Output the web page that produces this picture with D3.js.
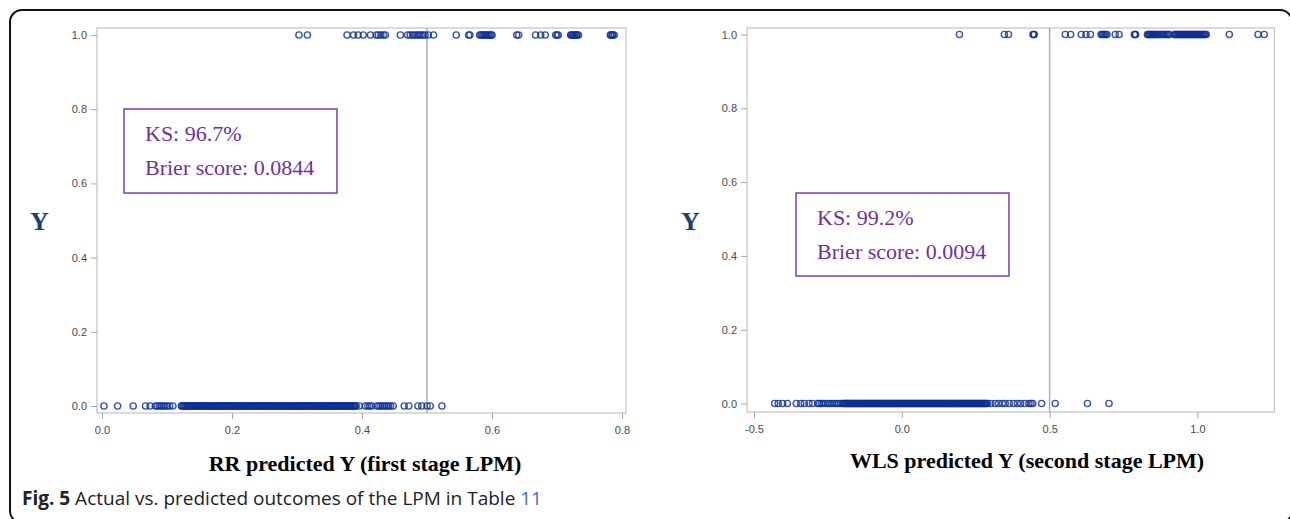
<!DOCTYPE html>
<html><head><meta charset="utf-8">
<script src="https://cdn.jsdelivr.net/npm/d3@7"></script>
<style>body{margin:0;background:#fff;}svg{display:block;}</style>
</head><body>
<svg id="c" width="1290" height="519"></svg>
<script>
// ---- data ----
const yTicks = [0, 0.2, 0.4, 0.6, 0.8, 1.0];
const leftXTicks = [0, 0.2, 0.4, 0.6, 0.8];
const rightXTicks = [-0.5, 0, 0.5, 1.0];
const cutoff = 0.5;
const leftTitle = "RR predicted Y (first stage LPM)";
const rightTitle = "WLS predicted Y (second stage LPM)";
const leftStats = ["KS: 96.7%", "Brier score: 0.0844"];
const rightStats = ["KS: 99.2%", "Brier score: 0.0094"];

// RR predicted values, actual Y = 1
const leftY1 = [.303,.316,
 .377,.387,.394,.402,.413,.422,.425,.429,.433,.436,
 .459,.470,.474,.478,.481,.485,.488,.491,.494,.497,.502,.510,
 .545,.564,.566,
 .581,.583,.585,.587,.589,.591,.593,.595,.597,.599,.600,
 .638,.641,.667,.675,.682,.698,.700,.702,
 .721,.722,.724,.725,.727,.728,.730,.731,.733,
 .782,.783,.785,.786,.788];
// RR predicted values, actual Y = 0
const leftY0 = [.003,.024,.048,.067,.074,.082,.085,.088,.091,.094,.097,.100,.104,.109,
 .122,.123,.125,.126,.128,.129,.131,.132,.134,.135,.137,.138,.140,.141,.143,.144,.146,.147,.149,.150,
 .152,.153,.155,.156,.158,.159,.161,.162,.164,.165,.167,.168,.170,.171,.173,.174,.176,.177,.179,.180,
 .182,.183,.185,.186,.188,.189,.191,.192,.194,.195,.197,.198,.200,.201,.203,.204,.206,.207,.209,.210,
 .212,.213,.215,.216,.218,.219,.221,.222,.224,.225,.227,.228,.230,.231,.233,.234,.236,.237,.239,.240,
 .242,.243,.245,.246,.248,.249,.251,.252,.254,.255,.257,.258,.260,.261,.263,.264,.266,.267,.269,.270,
 .272,.273,.275,.276,.278,.279,.281,.282,.284,.285,.287,.288,.290,.291,.293,.294,.296,.297,.299,.300,
 .302,.303,.305,.306,.308,.309,.311,.312,.314,.315,.317,.318,.320,.321,.323,.324,.326,.327,.329,.330,
 .332,.333,.335,.336,.338,.339,.341,.342,.344,.345,.347,.348,.350,.351,
 .353,.354,.356,.357,.359,.360,.362,.363,.365,.366,.368,.369,.371,.372,.374,.375,.377,.378,.380,.381,
 .383,.384,.386,.387,.389,.390,.391,
 .396,.405,.409,.412,.415,.423,.426,.429,.432,.435,.438,.441,.444,.448,
 .465,.472,.486,.492,.500,.505,.523];
// WLS predicted values, actual Y = 1
const rightY1 = [.195,.347,.361,.444,.446,.448,
 .553,.571,.607,.623,.638,.674,.678,.682,.686,.690,.694,.722,.735,.787,.789,.791,
 .831,.834,.837,.840,.843,.846,.849,.852,.855,.858,.862,.866,.870,.874,.878,.882,.886,.890,.894,.898,.902,.904,
 .922,.925,.928,.931,.934,.937,.940,.943,.946,.949,.952,.955,.958,.961,.964,.967,.970,.973,.976,.979,
 .982,.985,.988,.991,.994,.997,1.000,1.003,1.006,1.009,1.012,1.015,1.018,1.021,1.024,1.027,1.030,
 1.108,1.205,1.226];
// WLS predicted values, actual Y = 0
const rightY0 = [-.430,-.418,-.403,-.387,-.357,-.342,-.330,-.314,-.302,
 -.284,-.279,-.272,-.266,-.258,-.250,-.243,-.236,-.228,-.221,-.214,-.207,
 -.199,-.196,-.193,-.190,-.187,-.184,-.181,-.178,-.175,-.172,-.169,-.166,-.163,-.160,-.157,-.154,
 -.151,-.148,-.145,-.142,-.139,-.136,-.133,-.130,-.127,-.124,-.121,-.118,-.115,-.112,-.109,-.106,
 -.103,-.100,-.097,-.094,-.091,-.088,-.085,-.082,-.079,-.076,-.073,-.070,-.067,-.064,-.061,-.058,
 -.055,-.052,-.049,-.046,-.043,-.040,-.037,-.034,-.031,-.028,-.025,-.022,-.019,-.016,-.013,-.010,
 -.007,-.004,-.001,.002,.005,.008,.011,.014,.017,.020,.023,.026,.029,.032,.035,.038,.041,.044,.047,
 .050,.053,.056,.059,.062,.065,.068,.071,.074,.077,.080,.083,.086,.089,.092,.095,.098,.101,.104,.107,
 .110,.113,.116,.119,.122,.125,.128,.131,.134,.137,.140,.143,.146,.149,.152,.155,.158,.161,.164,.167,
 .170,.173,.176,.179,.182,.185,.188,.191,.194,.197,.200,.203,.206,.209,.212,.215,.218,.221,.224,.227,
 .230,.233,.236,.239,.242,.245,.248,.251,.254,.257,.260,.263,.266,.269,.272,.275,.278,.281,.284,.286,
 .290,.301,.316,.327,.340,.350,.364,.378,.391,.402,.416,.430,.437,.443,
 .473,.519,.628,.701];

// ---- drawing ----
const svg = d3.select("#c");

// outer frame
svg.append("rect").attr("x", 10).attr("y", 10).attr("width", 1282).attr("height", 513)
  .attr("rx", 12).attr("fill", "none").attr("stroke", "#111").attr("stroke-width", 2);

const fmt = d => d.toFixed(1);

function panel(cfg) {
  const x = d3.scaleLinear().domain(cfg.xDomain).range(cfg.xRange);
  const y = d3.scaleLinear().domain([0, 1]).range(cfg.yRange);
  const g = svg.append("g");
  const p = cfg.plot;
  g.append("rect").attr("x", p.x0).attr("y", p.y0).attr("width", p.x1 - p.x0).attr("height", p.y1 - p.y0)
    .attr("fill", "none").attr("stroke", "#c2c2c2").attr("stroke-width", 1.2);
  const ya = g.append("g").attr("transform", `translate(${p.x0},0)`)
    .call(d3.axisLeft(y).tickValues(yTicks).tickSize(6).tickPadding(4).tickFormat(fmt));
  const xa = g.append("g").attr("transform", `translate(0,${p.y1})`)
    .call(d3.axisBottom(x).tickValues(cfg.xTicks).tickSize(6).tickPadding(7).tickFormat(fmt));
  [ya, xa].forEach(a => {
    a.select(".domain").remove();
    a.selectAll("line").attr("stroke", "#a8a8a8");
    a.selectAll("text").attr("fill", "#4a4a4a").style("font-family", "Liberation Sans, Arial, sans-serif").style("font-size", "11px");
  });
  g.append("line").attr("x1", x(cutoff)).attr("x2", x(cutoff)).attr("y1", p.y0).attr("y2", p.y1)
    .attr("stroke", "#a9a9a9").attr("stroke-width", 1.4);
  const pts = cfg.y0.map(v => ({v, y: 0})).concat(cfg.y1.map(v => ({v, y: 1})));
  g.append("g").selectAll("circle").data(pts).join("circle")
    .attr("cx", d => x(d.v)).attr("cy", d => y(d.y)).attr("r", 3.1)
    .attr("fill", "none").attr("stroke", "#0c2f9a").attr("stroke-opacity", 0.82).attr("stroke-width", 1.4);
  const b = cfg.box;
  g.append("rect").attr("x", b.x).attr("y", b.y).attr("width", b.w).attr("height", b.h)
    .attr("fill", "#fff").attr("stroke", "#7a3db0").attr("stroke-width", 1.5);
  cfg.stats.forEach((s, i) => {
    g.append("text").attr("x", b.x + 21).attr("y", b.y + 32 + i * 34).text(s)
      .attr("fill", "#7030a0").style("font-family", "Liberation Serif, Times New Roman, serif").style("font-size", "22px");
  });
  g.append("text").attr("x", cfg.yLab[0]).attr("y", cfg.yLab[1]).text("Y")
    .attr("fill", "#1f3f6e").style("font-family", "Liberation Serif, Times New Roman, serif")
    .style("font-size", "26px").style("font-weight", "bold");
  g.append("text").attr("x", cfg.title[0]).attr("y", cfg.title[1]).attr("text-anchor", "middle").text(cfg.titleText)
    .attr("fill", "#000").style("font-family", "Liberation Serif, Times New Roman, serif")
    .style("font-size", "22px").style("font-weight", "bold");
}

panel({
  xDomain: [0, 0.8], xRange: [102, 622], yRange: [406, 35],
  plot: {x0: 97, x1: 626, y0: 28, y1: 413}, xTicks: leftXTicks,
  y0: leftY0, y1: leftY1,
  box: {x: 124, y: 109, w: 213, h: 84}, stats: leftStats,
  yLab: [30, 230], title: [365, 471], titleText: leftTitle
});
panel({
  xDomain: [-0.5, 1.0], xRange: [754, 1197.4], yRange: [403.5, 34.5],
  plot: {x0: 747, x1: 1274.5, y0: 28, y1: 412}, xTicks: rightXTicks,
  y0: rightY0, y1: rightY1,
  box: {x: 796, y: 193, w: 213, h: 83}, stats: rightStats,
  yLab: [681, 230], title: [1027, 468], titleText: rightTitle
});

// caption
const cap = svg.append("text").attr("x", 22).attr("y", 505)
  .style("font-family", "Open Sans, sans-serif").style("font-size", "19px").attr("fill", "#222");
cap.append("tspan").text("Fig. 5").style("font-weight", "bold");
cap.append("tspan").text(" Actual vs. predicted outcomes of the LPM in Table ");
cap.append("tspan").text("11").attr("fill", "#3a6fd0");
</script>
</body></html>
